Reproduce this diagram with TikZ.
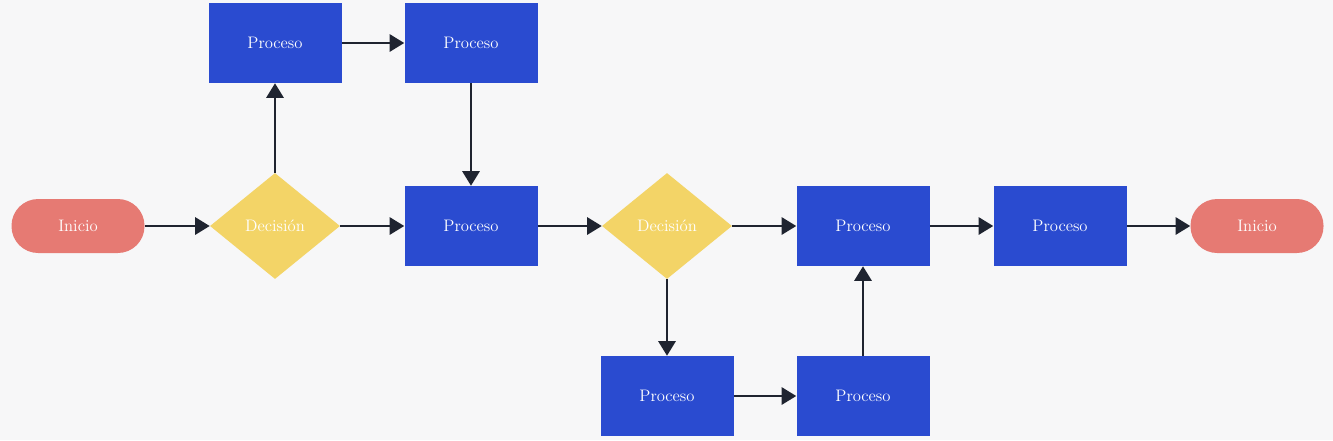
\documentclass[tikz,border=0pt]{standalone}
\usepackage{tikz}
\usetikzlibrary{shapes.geometric,arrows.meta}

\definecolor{bgcol}{HTML}{F7F7F8}
\definecolor{procblue}{HTML}{2A4BD0}
\definecolor{termred}{HTML}{E67A73}
\definecolor{decyellow}{HTML}{F3D467}
\definecolor{linecol}{HTML}{1F2430}

\begin{document}
\begin{tikzpicture}[x=0.75pt, y=-0.75pt,
    every node/.style={text=white, font=\fontsize{12.5}{14}\selectfont},
    proc/.style={rectangle, fill=procblue, minimum width=99.75pt, minimum height=60pt, inner sep=0pt},
    term/.style={rectangle, rounded corners=20pt, fill=termred, minimum width=99.75pt, minimum height=40.5pt, inner sep=0pt},
    deci/.style={diamond, fill=decyellow, minimum width=97.5pt, minimum height=79.5pt, inner sep=0pt},
    link/.style={draw=linecol, line width=1.7pt, -{Triangle[length=11pt, width=13pt]}}]

    % Background and size
    \fill[bgcol] (0,0) rectangle (1333,440);

    % Rows
    \def\ytop{43}
    \def\ymid{226}
    \def\ybot{396}

    % Nodes
    \node[term] (inicioA) at (78,\ymid) {Inicio};
    \node[deci] (decA) at (275,\ymid) {Decisión};
    \node[proc] (procA) at (275,\ytop) {Proceso};
    \node[proc] (procB) at (471,\ytop) {Proceso};
    \node[proc] (procC) at (471,\ymid) {Proceso};
    \node[deci] (decB) at (667,\ymid) {Decisión};
    \node[proc] (procD) at (667,\ybot) {Proceso};
    \node[proc] (procE) at (863,\ybot) {Proceso};
    \node[proc] (procF) at (863,\ymid) {Proceso};
    \node[proc] (procG) at (1060,\ymid) {Proceso};
    \node[term] (inicioB) at (1257,\ymid) {Inicio};

    % Connectors
    \draw[link] (inicioA) -- (decA);
    \draw[link] (decA) -- (procC);
    \draw[link] (decA) -- (procA);
    \draw[link] (procA) -- (procB);
    \draw[link] (procB) -- (procC);
    \draw[link] (procC) -- (decB);
    \draw[link] (decB) -- (procF);
    \draw[link] (decB) -- (procD);
    \draw[link] (procD) -- (procE);
    \draw[link] (procE) -- (procF);
    \draw[link] (procF) -- (procG);
    \draw[link] (procG) -- (inicioB);

\end{tikzpicture}
\end{document}
